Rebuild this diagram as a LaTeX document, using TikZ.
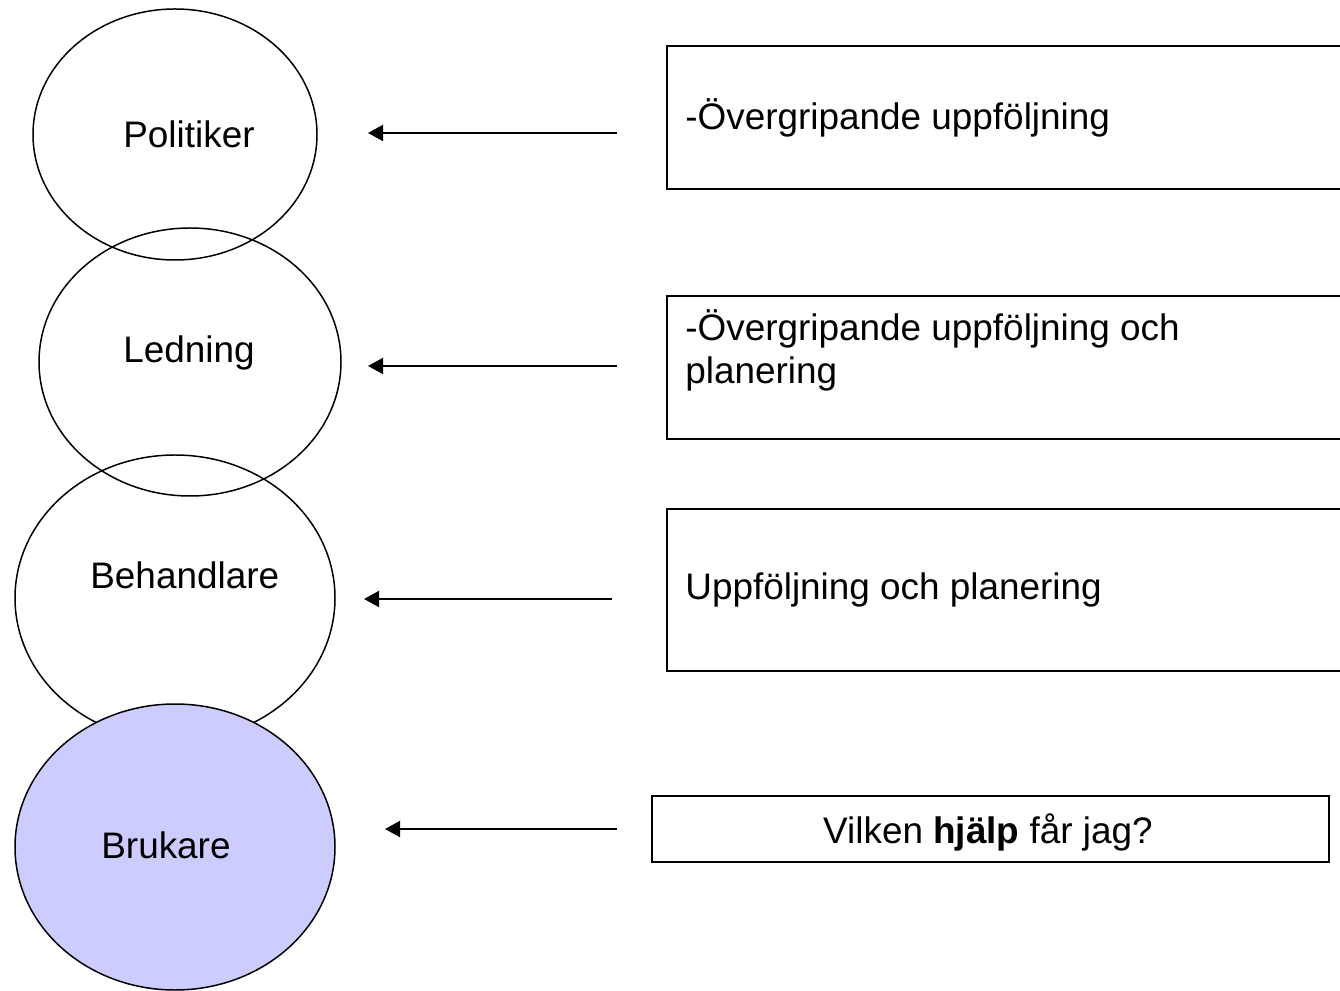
\documentclass[tikz,border=0pt]{standalone}
\usepackage{fontspec}
\setmainfont{Liberation Sans}
\usetikzlibrary{shapes.geometric,arrows.meta}

\begin{document}
\begin{tikzpicture}[
    boll/.style={draw, ellipse, line width=0.85pt, inner sep=0pt},
    ruta/.style={draw, rectangle, line width=1.1pt, anchor=north west, inner sep=0pt},
    etikett/.style={anchor=base west, inner sep=0pt, font=\fontsize{21}{24.5}\selectfont},
    pil/.style={line width=1.1pt, -{Triangle[length=0.30cm, width=0.32cm]}}
]
    \definecolor{brukar_blue}{HTML}{CCCCFF}
    \useasboundingbox (0,0) rectangle (26.8,19.8);
    %\draw[help lines] (0,0) grid (26,19);

    % nivaerna
    \node[boll, minimum width=5.68cm, minimum height=5.02cm] (politiker) at (3.50,17.11) {};
    \node[boll, minimum width=6.04cm, minimum height=5.36cm] (ledning) at (3.80,12.56) {};
    \node[boll, minimum width=6.40cm, minimum height=5.72cm] (behandlare) at (3.50,7.84) {};
    \node[boll, fill=brukar_blue, minimum width=6.40cm, minimum height=5.72cm] (brukare) at (3.50,2.86) {};

    \node[etikett] (politikertext) at (2.46,16.84) {Politiker};
    \node[etikett] (ledningtext) at (2.46,12.54) {Ledning};
    \node[etikett] (behandlaretext) at (1.80,8.02) {Behandlare};
    \node[etikett] (brukaretext) at (2.02,2.64) {Brukare};

    % rutorna
    \node[ruta, minimum width=13.68cm, minimum height=2.86cm] (ruta1) at (13.32,18.90) {};
    \node[ruta, minimum width=13.68cm, minimum height=2.86cm] (ruta2) at (13.32,13.90) {};
    \node[ruta, minimum width=13.68cm, minimum height=3.24cm] (ruta3) at (13.32,9.64) {};
    \node[ruta, minimum width=13.54cm, minimum height=1.32cm] (ruta4) at (13.02,3.90) {};

    \node[etikett] (text1) at (13.70,17.20) {-Övergripande uppföljning};
    \node[etikett, align=left] (text2) at (13.70,12.12) {-Övergripande uppföljning och\\planering};
    \node[etikett] (text3) at (13.70,7.80) {Uppföljning och planering};
    \node[etikett, anchor=base] (text4) at (19.76,2.93) {Vilken \textbf{hjälp} får jag?};

    % pilar
    \coordinate (fran1) at (12.34,17.14);
    \coordinate (till1) at (7.36,17.14);
    \coordinate (fran2) at (12.34,12.48);
    \coordinate (till2) at (7.36,12.48);
    \coordinate (fran3) at (12.24,7.82);
    \coordinate (till3) at (7.28,7.82);
    \coordinate (fran4) at (12.34,3.22);
    \coordinate (till4) at (7.70,3.22);
    \draw[pil] (fran1) -- (till1);
    \draw[pil] (fran2) -- (till2);
    \draw[pil] (fran3) -- (till3);
    \draw[pil] (fran4) -- (till4);

\end{tikzpicture}
\end{document}
